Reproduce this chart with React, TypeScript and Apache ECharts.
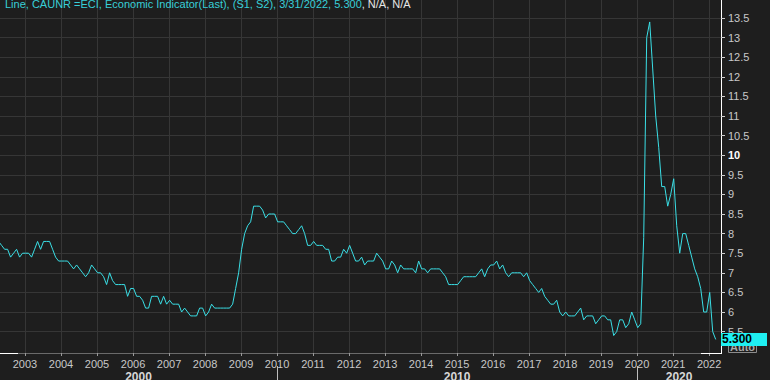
import React, { useEffect, useRef } from "react";
import * as echarts from "echarts";

// Canada unemployment rate (CAUNR), monthly, Jan..Dec per year
const rates2002 = [7.9, 7.9, 7.9, 7.8, 7.7, 7.6, 7.6, 7.4, 7.5, 7.6, 7.4, 7.5];
const rates2003 = [7.5, 7.5, 7.4, 7.6, 7.8, 7.6, 7.8, 7.8, 7.8, 7.6, 7.4, 7.3];
const rates2004 = [7.3, 7.3, 7.3, 7.2, 7.1, 7.2, 7.1, 7.0, 6.9, 7.0, 7.2, 7.1];
const rates2005 = [7.0, 7.0, 6.9, 6.7, 7.0, 6.8, 6.7, 6.7, 6.7, 6.7, 6.4, 6.6];
const rates2006 = [6.6, 6.4, 6.4, 6.3, 6.1, 6.1, 6.4, 6.4, 6.4, 6.2, 6.4, 6.2];
const rates2007 = [6.3, 6.2, 6.2, 6.2, 6.0, 6.1, 6.0, 5.9, 5.9, 5.9, 6.1, 6.1];
const rates2008 = [5.9, 6.0, 6.2, 6.1, 6.1, 6.1, 6.1, 6.1, 6.1, 6.2, 6.6, 7.0];
const rates2009 = [7.6, 8.0, 8.2, 8.3, 8.7, 8.7, 8.7, 8.6, 8.4, 8.5, 8.5, 8.5];
const rates2010 = [8.3, 8.3, 8.3, 8.2, 8.1, 8.0, 8.0, 8.1, 8.2, 8.0, 7.7, 7.7];
const rates2011 = [7.8, 7.7, 7.7, 7.7, 7.6, 7.6, 7.3, 7.3, 7.4, 7.4, 7.6, 7.5];
const rates2012 = [7.7, 7.5, 7.3, 7.3, 7.4, 7.2, 7.3, 7.3, 7.3, 7.5, 7.4, 7.3];
const rates2013 = [7.1, 7.1, 7.3, 7.2, 7.0, 7.2, 7.1, 7.1, 7.1, 7.1, 7.0, 7.3];
const rates2014 = [7.1, 7.1, 7.0, 7.1, 7.1, 7.1, 7.1, 7.0, 6.9, 6.7, 6.7, 6.7];
const rates2015 = [6.7, 6.8, 6.9, 6.9, 6.9, 6.9, 6.9, 7.0, 7.1, 6.9, 7.1, 7.2];
const rates2016 = [7.2, 7.3, 7.1, 7.2, 7.0, 6.9, 7.0, 7.0, 7.0, 7.0, 6.9, 7.0];
const rates2017 = [6.8, 6.7, 6.6, 6.5, 6.6, 6.4, 6.3, 6.2, 6.2, 6.3, 6.0, 5.9];
const rates2018 = [6.0, 5.9, 5.9, 5.9, 6.0, 6.1, 5.8, 5.9, 5.9, 5.9, 5.7, 5.8];
const rates2019 = [5.9, 5.9, 5.8, 5.8, 5.4, 5.5, 5.8, 5.8, 5.6, 5.7, 6.0, 5.8];
const rates2020 = [5.6, 5.7, 7.9, 13.0, 13.4, 12.2, 11.0, 10.2, 9.2, 9.2, 8.7, 9.0];
const rates2021 = [9.4, 8.2, 7.5, 8.0, 8.0, 7.7, 7.4, 7.1, 6.9, 6.6, 6.0, 6.0];
const rates2022 = [6.5, 5.5, 5.3];

const dataYears = [2002, 2003, 2004, 2005, 2006, 2007, 2008, 2009, 2010, 2011, 2012,
  2013, 2014, 2015, 2016, 2017, 2018, 2019, 2020, 2021, 2022];
const yearlyRates = [rates2002, rates2003, rates2004, rates2005, rates2006, rates2007,
  rates2008, rates2009, rates2010, rates2011, rates2012, rates2013, rates2014, rates2015,
  rates2016, rates2017, rates2018, rates2019, rates2020, rates2021, rates2022];

const yearTicks = [2003, 2004, 2005, 2006, 2007, 2008, 2009, 2010, 2011, 2012, 2013,
  2014, 2015, 2016, 2017, 2018, 2019, 2020, 2021, 2022];
const decadeStarts = [2010, 2020];
const decadeLabels = ["2000", "2010", "2020"];
const rateTicks = [5.5, 6, 6.5, 7, 7.5, 8, 8.5, 9, 9.5, 10, 10.5, 11, 11.5, 12, 12.5, 13, 13.5];

const X_MIN = 2002.306;
const X_MAX = 2022.33;
const Y_MIN = 4.954;
const Y_MAX = 13.96;

const FONT = "'Liberation Sans', Arial, sans-serif";
const BG = "#1e1e1e";
const LINE_CYAN = "#3adfe6";
const GRID = "#363636";
const LABEL = "#c8c8c8";

export default function App() {
  const ref = useRef<HTMLDivElement>(null);

  useEffect(() => {
    if (!ref.current) return;
    const chart = echarts.init(ref.current, null, { renderer: "svg" });

    const points: [number, number][] = [];
    yearlyRates.forEach((arr, i) => {
      arr.forEach((v, m) => {
        points.push([dataYears[i] + (m + 0.2) / 12, v]);
      });
    });
    const lastValue = points[points.length - 1][1];

    const decadeCenters = [
      (X_MIN + decadeStarts[0]) / 2,
      (decadeStarts[0] + decadeStarts[1]) / 2,
      (decadeStarts[1] + X_MAX) / 2,
    ];

    const option: any = {
      backgroundColor: BG,
      animation: false,
      grid: { left: 0, right: 49, top: 0, bottom: 27, containLabel: false, outerBoundsMode: "none" },
      xAxis: [
        {
          type: "value",
          min: X_MIN,
          max: X_MAX,
          position: "bottom",
          axisLine: { show: true, lineStyle: { color: "#6a6a6a", width: 1 } },
          axisTick: { show: true, customValues: yearTicks, length: 3, lineStyle: { color: "#9a9a9a" } },
          axisLabel: {
            customValues: yearTicks,
            formatter: (v: number) => String(Math.round(v)),
            color: LABEL,
            fontSize: 11,
            fontFamily: FONT,
            margin: 5,
          },
          splitLine: { show: true, lineStyle: { color: GRID, width: 1 } },
        },
        {
          type: "value",
          min: X_MIN,
          max: X_MAX,
          position: "bottom",
          offset: 13,
          axisLine: { show: false },
          axisTick: { show: true, customValues: decadeStarts, length: 14, lineStyle: { color: "#bdbdbd" } },
          axisLabel: {
            customValues: decadeCenters,
            formatter: (v: number) => {
              const idx = decadeCenters.findIndex((c) => Math.abs(c - v) < 0.01);
              return idx >= 0 ? decadeLabels[idx] : "";
            },
            color: "#d6d6d6",
            fontSize: 12,
            fontWeight: "bold",
            fontFamily: FONT,
            margin: 5,
          },
          splitLine: { show: false },
        },
      ],
      yAxis: {
        type: "value",
        position: "right",
        min: Y_MIN,
        max: Y_MAX,
        axisLine: { show: true, lineStyle: { color: "#ffffff", width: 1 } },
        axisTick: { show: true, customValues: rateTicks, length: 4, lineStyle: { color: "#cfcfcf" } },
        axisLabel: {
          customValues: rateTicks,
          margin: 7,
          color: LABEL,
          fontSize: 11,
          fontFamily: FONT,
          formatter: (v: number) => (v === 10 ? "{b|10}" : String(v)),
          rich: { b: { fontWeight: "bold", color: "#ffffff", fontSize: 11, fontFamily: FONT } },
        },
        splitLine: { show: true, lineStyle: { color: GRID, width: 1 } },
      },
      graphic: [
        {
          type: "text",
          left: 5,
          top: -2,
          z: 10,
          style: {
            text: "{c|Line, CAUNR =ECI, Economic Indicator(Last), (S1, S2), 3/31/2022, 5.300}{w|, N/A, N/A}",
            font: `11px ${FONT}`,
            rich: {
              c: { fill: "#38cfd8", fontSize: 11, fontFamily: FONT },
              w: { fill: "#e6e6e6", fontSize: 11, fontFamily: FONT },
            },
          },
        },
        {
          type: "group",
          left: 728,
          top: 340,
          children: [
            { type: "rect", shape: { x: 0, y: 0, width: 28, height: 12 }, style: { fill: BG, stroke: "#8c8c8c", lineWidth: 1 } },
            {
              type: "text",
              x: 14,
              y: 6,
              style: { text: "Auto", fill: "#a8a8a8", font: `bold 11px ${FONT}`, align: "center", verticalAlign: "middle" },
            },
          ],
        },
        { type: "line", shape: { x1: 0, y1: 353.5, x2: 18, y2: 353.5 }, style: { stroke: "#ffffff", lineWidth: 1 }, z: 5 },
        { type: "line", shape: { x1: 701, y1: 353.5, x2: 722, y2: 353.5 }, style: { stroke: "#ffffff", lineWidth: 1 }, z: 5 },
      ],
      series: [
        {
          type: "line",
          data: points,
          xAxisIndex: 0,
          yAxisIndex: 0,
          showSymbol: false,
          symbol: "none",
          clip: true,
          lineStyle: { color: LINE_CYAN, width: 1 },
          z: 3,
          markPoint: {
            silent: true,
            symbol: "rect",
            symbolSize: [46, 13],
            symbolOffset: [23, 0],
            itemStyle: { color: "#1ff0f2" },
            label: {
              show: true,
              position: "insideLeft",
              distance: 1,
              color: "#000000",
              fontWeight: "bold",
              fontSize: 12,
              fontFamily: FONT,
              formatter: () => lastValue.toFixed(3),
            },
            data: [{ coord: [X_MAX, lastValue] }],
          },
        },
      ],
    };

    chart.setOption(option);
    return () => chart.dispose();
  }, []);

  return (
    <div
      ref={ref}
      style={{ position: "absolute", left: 0, top: 0, width: 770, height: 380 }}
    />
  );
}
